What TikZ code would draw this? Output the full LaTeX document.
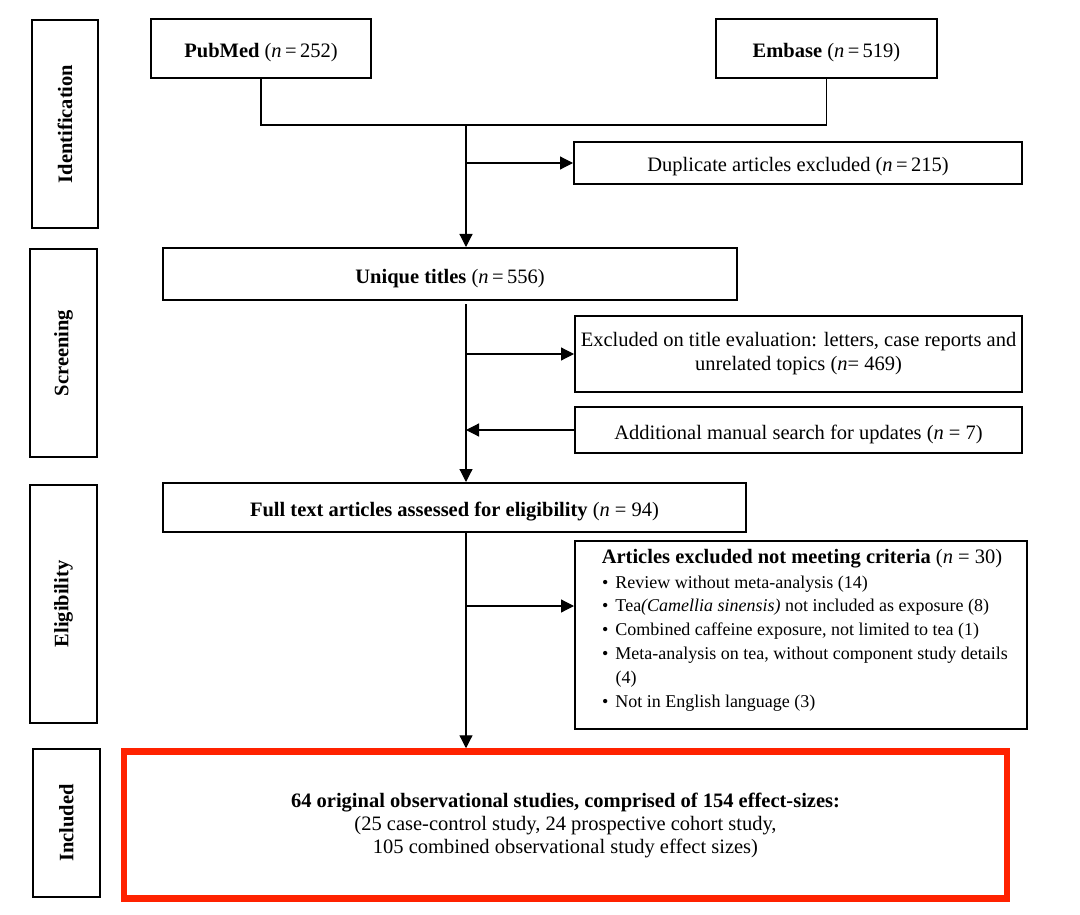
\documentclass[tikz,border=0pt]{standalone}
\usepackage{fontspec}
\setmainfont{Liberation Serif}
\usetikzlibrary{arrows.meta}
\definecolor{incred}{RGB}{255,34,0}
\tikzset{
  box/.style={draw, line width=2pt, inner sep=0pt, align=center, font=\fontsize{20.5}{24}\selectfont},
  oneline/.style={text height=21pt, text depth=3pt},
  side/.style={box, rotate=90, font=\fontsize{20.5}{24}\selectfont\bfseries},
  conn/.style={line width=1.2pt},
  arr/.style={conn, -{Triangle[length=13pt,width=13pt]}},
  plain/.style={inner sep=0pt},
}
\begin{document}
\begin{tikzpicture}[x=1pt,y=-1pt]
\fill[white] (0,0) rectangle (1080,915);
\useasboundingbox (0,0) rectangle (1080,915);
% stage labels
\node[side, minimum width=208pt, minimum height=66pt] (sid) at (65,124) {Identification};
\node[side, minimum width=208pt, minimum height=67pt] (sscr) at (63.5,353) {Screening};
\node[side, minimum width=238pt, minimum height=67pt] (selig) at (63.5,604) {Eligibility};
\node[side, minimum width=148pt, minimum height=67pt] (sinc) at (66.5,823) {Included};
% boxes
\node[box, oneline, minimum width=220pt, minimum height=59pt] (pub) at (261,48.5) {\textbf{PubMed} (\textit{n}\,=\,252)};
\node[box, oneline, minimum width=221pt, minimum height=59pt] (emb) at (826.5,48.5) {\textbf{Embase} (\textit{n}\,=\,519)};
\node[box, oneline, minimum width=448pt, minimum height=42pt] (dup) at (798,163) {Duplicate articles excluded (\textit{n}\,=\,215)};
\node[box, oneline, minimum width=574pt, minimum height=52pt] (uniq) at (450,274) {\textbf{Unique titles} (\textit{n}\,=\,556)};
\node[box, minimum width=447pt, minimum height=76pt] (excl) at (798.5,354) {Excluded on title evaluation: letters, case reports and\\ unrelated topics (\textit{n}= 469)};
\node[box, oneline, minimum width=447pt, minimum height=46pt] (add) at (798.5,430) {Additional manual search for updates (\textit{n} = 7)};
\node[box, oneline, minimum width=583pt, minimum height=49pt] (full) at (454.5,507.5) {\textbf{Full text articles assessed for eligibility} (\textit{n} = 94)};
\node[box, minimum width=452pt, minimum height=188pt] (exc) at (801,635) {};
\node[plain, anchor=base, font=\fontsize{20.5}{24}\selectfont] (exct) at (802,563) {\textbf{Articles excluded not meeting criteria} (\textit{n} = 30)};
\node[plain, anchor=base west] (exclist) at (602,588) {\fontsize{18}{23.8}\selectfont
\begin{tabular}[t]{@{}l@{\hspace{7pt}}l@{}}
\textbullet & Review without meta-analysis (14)\\
\textbullet & Tea\textit{(Camellia sinensis)} not included as exposure (8)\\
\textbullet & Combined caffeine exposure, not limited to tea (1)\\
\textbullet & Meta-analysis on tea, without component study details\\
 & (4)\\
\textbullet & Not in English language (3)
\end{tabular}};
\node[box, draw=incred, line width=6.5pt, minimum width=883pt, minimum height=147pt, font=\fontsize{20.5}{23}\selectfont] (fin) at (565.5,825) {\textbf{64 original observational studies, comprised of 154 effect-sizes:}\\ (25 case-control study, 24 prospective cohort study,\\ 105 combined observational study effect sizes)};
% connectors
\coordinate (j1) at (466,125);
\coordinate (j2) at (466,304);
\coordinate (b3) at (466,606);
\draw[conn] (pub.south) |- (j1) -| (emb.south);
\draw[arr] (j1) -- (j1 |- uniq.north);
\draw[arr] (j1 |- dup.west) -- (dup.west);
\draw[arr] (j2) -- (j2 |- full.north);
\draw[arr] (j2 |- excl.west) -- (excl.west);
\draw[arr] (add.west) -- (add.west -| j2);
\draw[arr] (full.south -| j1) -- (j1 |- fin.north);
\draw[arr] (b3) -- (b3 -| exc.west);
\end{tikzpicture}
\end{document}
